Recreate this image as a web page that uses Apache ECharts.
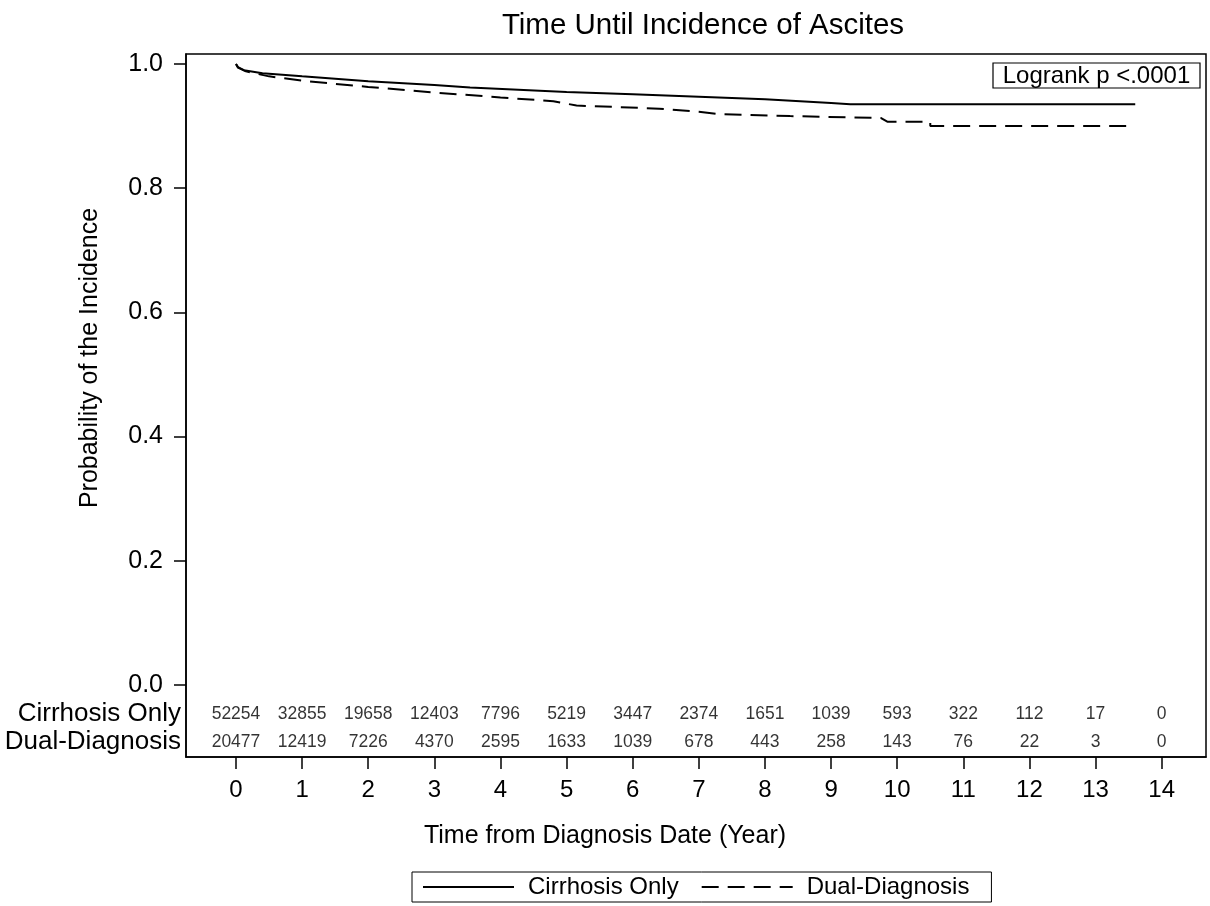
<!DOCTYPE html>
<html>
<head>
<meta charset="utf-8">
<script src="https://cdn.jsdelivr.net/npm/echarts@6/dist/echarts.min.js"></script>
<style>
  html, body { margin: 0; padding: 0; background: #fff; }
  #chart { width: 1210px; height: 906px; }
</style>
</head>
<body>
<div id="chart"></div>
<script>
var years = [0,1,2,3,4,5,6,7,8,9,10,11,12,13,14];
var yTicks = [0, 0.2, 0.4, 0.6, 0.8, 1.0];

// survival curves: [year, probability]
var cirrhosisCurve = [
    [0,1.0],[0.03,0.995],[0.12,0.99],[0.4,0.985],[1,0.980],[2,0.972],[3,0.966],
    [3.54,0.962],[5,0.955],[6,0.951],[7,0.947],[8,0.943],[9,0.937],[9.29,0.935],[13.6,0.935]
];
var dualCurve = [
    [0,1.0],[0.03,0.994],[0.15,0.988],[0.5,0.980],[1,0.973],[2,0.963],[3,0.954],
    [4,0.946],[4.8,0.940],[5.15,0.933],[6.4,0.928],[7.0,0.923],[7.32,0.919],[8.38,0.916],
    [8.4,0.914],[9.75,0.913],[9.85,0.907],[10.5,0.907],[10.5,0.900],[13.48,0.900]
];

// number at risk
var atRiskCirrhosis = [52254,32855,19658,12403,7796,5219,3447,2374,1651,1039,593,322,112,17,0];
var atRiskDual = [20477,12419,7226,4370,2595,1633,1039,678,443,258,143,76,22,3,0];

var font = 'Liberation Sans, Arial, sans-serif';
var chart = echarts.init(document.getElementById('chart'));

var riskRow1 = [], riskRow2 = [];
for (var i = 0; i < years.length; i++) {
    riskRow1.push([years[i], -0.0467, atRiskCirrhosis[i]]);
    riskRow2.push([years[i], -0.0918, atRiskDual[i]]);
}

function riskSeries(data) {
    return {
        type: 'scatter',
        data: data,
        symbolSize: 1,
        itemStyle: { color: 'rgba(0,0,0,0)' },
        silent: true,
        label: {
            show: true,
            position: 'inside',
            color: '#000',
            fontFamily: font,
            fontSize: 17.5,
            formatter: function (p) { return p.value[2]; }
        }
    };
}

var option = {
    animation: false,
    backgroundColor: '#fff',
    title: {
        text: 'Time Until Incidence of Ascites',
        left: 698,
        top: 6,
        textAlign: 'center',
        textStyle: { fontFamily: font, fontSize: 29.5, fontWeight: 'normal', color: '#000' }
    },
    grid: {
        left: 186, right: 4, top: 54, bottom: 149,
        show: true, borderColor: '#000', borderWidth: 1.5
    },
    legend: {
        data: ['Cirrhosis Only', 'Dual-Diagnosis'],
        left: 412,
        top: 872,
        padding: [3, 22, 3, 10],
        borderColor: '#000',
        borderWidth: 1,
        itemWidth: 91,
        itemHeight: 2,
        itemGap: 22,
        itemStyle: { opacity: 0 },
        textStyle: { fontFamily: font, fontSize: 24, color: '#000', padding: [0, 0, 0, 9] }
    },
    xAxis: {
        type: 'value',
        min: -0.756,
        max: 14.67,
        axisLine: { onZero: false, lineStyle: { color: '#000', width: 1.5 } },
        axisTick: { customValues: years, length: 12, lineStyle: { color: '#000', width: 1.5 } },
        axisLabel: { customValues: years, margin: 21, color: '#000', fontFamily: font, fontSize: 24 },
        splitLine: { show: false }
    },
    yAxis: {
        type: 'value',
        min: -0.116,
        max: 1.016,
        axisLine: { onZero: false, lineStyle: { color: '#000', width: 1.5 } },
        axisTick: { customValues: yTicks, length: 12, lineStyle: { color: '#000', width: 1.5 } },
        axisLabel: {
            customValues: yTicks, margin: 23, color: '#000', fontFamily: font, fontSize: 25,
            formatter: function (v) { return v.toFixed(1); }
        },
        splitLine: { show: false }
    },
    graphic: [
        { type: 'text', x: 90, y: 358, rotation: Math.PI / 2,
          style: { text: 'Probability of the Incidence', fontFamily: font, fontSize: 25, fill: '#000',
                   textAlign: 'center', textVerticalAlign: 'middle' } },
        { type: 'text', x: 605, y: 836,
          style: { text: 'Time from Diagnosis Date (Year)', fontFamily: font, fontSize: 25, fill: '#000',
                   textAlign: 'center', textVerticalAlign: 'middle' } },
        { type: 'text', x: 181, y: 714,
          style: { text: 'Cirrhosis Only', fontFamily: font, fontSize: 26, fill: '#000',
                   textAlign: 'right', textVerticalAlign: 'middle' } },
        { type: 'text', x: 181, y: 742,
          style: { text: 'Dual-Diagnosis', fontFamily: font, fontSize: 26, fill: '#000',
                   textAlign: 'right', textVerticalAlign: 'middle' } },
        { type: 'rect', shape: { x: 993, y: 63, width: 207, height: 25 },
          style: { fill: '#fff', stroke: '#000', lineWidth: 1.2 } },
        { type: 'text', x: 1096.5, y: 76,
          style: { text: 'Logrank p <.0001', fontFamily: font, fontSize: 24, fill: '#000',
                   textAlign: 'center', textVerticalAlign: 'middle' } }
    ],
    series: [
        {
            name: 'Cirrhosis Only',
            type: 'line',
            data: cirrhosisCurve,
            symbol: 'none',
            lineStyle: { color: '#000', width: 2 },
            itemStyle: { color: '#000' }
        },
        {
            name: 'Dual-Diagnosis',
            type: 'line',
            data: dualCurve,
            symbol: 'none',
            lineStyle: { color: '#000', width: 2, type: [17, 9] },
            itemStyle: { color: '#000' }
        },
        riskSeries(riskRow1),
        riskSeries(riskRow2)
    ]
};

chart.setOption(option);
</script>
</body>
</html>
